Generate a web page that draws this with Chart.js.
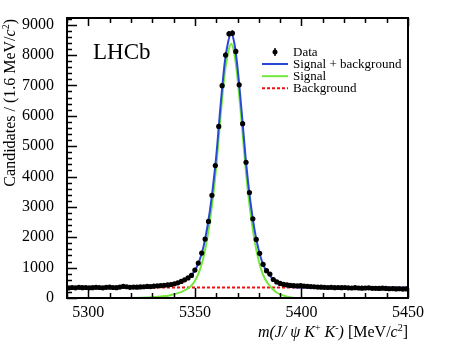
<!DOCTYPE html>
<html><head><meta charset="utf-8">
<script src="https://cdn.jsdelivr.net/npm/chart.js@4/dist/chart.umd.min.js"></script>
<style>html,body{margin:0;padding:0;background:#fff}</style>
</head><body>
<canvas id="c" width="474" height="355"></canvas>
<script>
// ---- data ----
const binLow = 5290;
const binWidth = 1.6;
const counts = [
  330, 345, 335, 350, 340, 345, 335, 340, 350, 345,
  335, 350, 355, 345, 340, 360, 385, 370, 350, 360,
  355, 365, 370, 380, 375, 390, 400, 410, 420, 430,
  445, 470, 500, 545, 600, 660, 745, 920, 1150, 1480,
  1940, 2520, 3380, 4360, 5650, 6990, 8000, 8700, 8720, 8120,
  7020, 5740, 4470, 3470, 2610, 1930, 1470, 1110, 900, 790,
  610, 530, 480, 450, 430, 415, 410, 400, 405, 395,
  385, 375, 370, 360, 355, 350, 345, 350, 340, 345,
  340, 345, 335, 330, 340, 330, 325, 330, 335, 320,
  320, 315, 325, 315, 305, 310, 300, 305, 295, 300
];
const fitMass = [5290, 5300, 5310, 5315, 5320, 5325, 5330, 5335, 5338, 5340, 5342, 5344, 5346, 5348, 5350, 5352, 5354, 5356, 5358, 5360, 5362, 5364, 5365.5, 5367, 5368.5, 5370, 5372, 5374, 5376, 5378, 5380, 5382, 5384, 5386, 5388, 5390, 5393, 5396, 5400, 5410, 5420, 5430, 5440, 5450];
const totalFit = [345, 345, 345, 345, 348, 355, 370, 400, 430, 465, 505, 555, 625, 725, 905, 1205, 1675, 2395, 3375, 4645, 6295, 7745, 8395, 8715, 8395, 7595, 6095, 4465, 3195, 2245, 1565, 1105, 845, 675, 545, 465, 395, 355, 345, 345, 345, 345, 345, 345];
const signalMass = [5318, 5325, 5330, 5335, 5338, 5340, 5342, 5344, 5346, 5348, 5350, 5352, 5354, 5356, 5358, 5360, 5362, 5364, 5365.5, 5367, 5368.5, 5370, 5372, 5374, 5376, 5378, 5380, 5382, 5384, 5386, 5388, 5390, 5393, 5396, 5399];
const signalFit = [0, 10, 25, 55, 85, 120, 160, 210, 280, 380, 560, 860, 1330, 2050, 3030, 4300, 5950, 7400, 8050, 8370, 8050, 7250, 5750, 4120, 2850, 1900, 1220, 760, 500, 330, 200, 120, 50, 10, 0];
const bkgMass = [5290, 5450];
const bkgFit = [345, 345];
const xTickValues = [5300, 5350, 5400, 5450];
const yTickValues = [0, 1000, 2000, 3000, 4000, 5000, 6000, 7000, 8000, 9000];
const seriesLabels = ['Data', 'Signal + background', 'Signal', 'Background'];

const binCenters = counts.map((_, i) => binLow + binWidth * (i + 0.5));
const FONT = '"Liberation Serif", "Times New Roman", serif';
const BLUE = '#2a48d6', GREEN = '#72e83a', RED = '#ee1111';

function drawRich(ctx, segs, size, x, y, align) {
  const fontOf = s => (s.i ? 'italic ' : '') + (s.s ? Math.round(size * 0.65) : size) + 'px ' + FONT;
  let W = 0;
  segs.forEach(s => { ctx.font = fontOf(s); W += ctx.measureText(s.t).width; });
  let cx = align === 'right' ? x - W : x;
  ctx.textAlign = 'left';
  ctx.textBaseline = 'alphabetic';
  segs.forEach(s => {
    ctx.font = fontOf(s);
    ctx.fillText(s.t, cx, y - (s.s ? size * 0.38 : 0));
    cx += ctx.measureText(s.t).width;
  });
}

const decor = {
  id: 'decor',
  afterDatasetsDraw(chart) {
    const ctx = chart.ctx, a = chart.chartArea;
    const xs = chart.scales.x, ys = chart.scales.y;
    ctx.save();
    // error bars
    ctx.strokeStyle = '#000'; ctx.lineWidth = 1.5;
    counts.forEach((c, i) => {
      const px = xs.getPixelForValue(binCenters[i]);
      const e = Math.sqrt(c);
      ctx.beginPath();
      ctx.moveTo(px, ys.getPixelForValue(c - e));
      ctx.lineTo(px, ys.getPixelForValue(c + e));
      ctx.stroke();
    });
    // frame
    ctx.lineWidth = 2;
    ctx.strokeRect(a.left, a.top, a.right - a.left, a.bottom - a.top);
    // ticks
    ctx.lineWidth = 1.5;
    ctx.beginPath();
    for (let v = 0; v <= ys.max; v += 200) {
      const py = Math.round(ys.getPixelForValue(v)) + 0.5;
      const len = yTickValues.includes(v) ? 10 : 5;
      ctx.moveTo(a.left, py); ctx.lineTo(a.left + len, py);
    }
    for (let v = 5290; v <= 5450; v += 10) {
      const px = Math.round(xs.getPixelForValue(v)) + 0.5;
      const len = xTickValues.includes(v) ? 10 : 5;
      ctx.moveTo(px, a.bottom); ctx.lineTo(px, a.bottom - len);
      ctx.moveTo(px, a.top); ctx.lineTo(px, a.top + (xTickValues.includes(v) ? 8 : 5));
    }
    ctx.stroke();
    ctx.fillStyle = '#000';
    // LHCb
    ctx.font = '23px ' + FONT;
    ctx.textAlign = 'left'; ctx.textBaseline = 'alphabetic';
    ctx.fillText('LHCb', 93, 59);
    // legend
    const lx0 = 262, lx1 = 288, tx = 293;
    const rows = [52, 64, 76.2, 88.3];
    ctx.font = '13px ' + FONT;
    ctx.textBaseline = 'middle';
    seriesLabels.forEach((lab, i) => {
      const y = rows[i];
      if (i === 0) {
        ctx.beginPath(); ctx.arc(275, y, 2.5, 0, Math.PI * 2); ctx.fill();
        ctx.lineWidth = 1.5; ctx.beginPath(); ctx.moveTo(275, y - 4); ctx.lineTo(275, y + 4); ctx.stroke();
      } else {
        ctx.strokeStyle = [null, BLUE, GREEN, RED][i];
        ctx.lineWidth = 2;
        ctx.setLineDash(i === 3 ? [3, 2] : []);
        ctx.beginPath(); ctx.moveTo(lx0, y); ctx.lineTo(lx1, y); ctx.stroke();
        ctx.setLineDash([]);
        ctx.strokeStyle = '#000';
      }
      ctx.fillText(lab, tx, y + 0.5);
    });
    // x title
    drawRich(ctx, [
      {t: 'm(J/ \u03C8 K', i: 1}, {t: '+', s: 1}, {t: ' K', i: 1}, {t: '-', s: 1}, {t: ')', i: 1},
      {t: ' [MeV/'}, {t: 'c', i: 1}, {t: '2', s: 1}, {t: ']'}
    ], 16, a.right, 337, 'right');
    // y title
    ctx.translate(15, 19);
    ctx.rotate(-Math.PI / 2);
    drawRich(ctx, [
      {t: 'Candidates / (1.6 MeV/'}, {t: 'c', i: 1}, {t: '2', s: 1}, {t: ')'}
    ], 16, 0, 0, 'right');
    ctx.restore();
  }
};

new Chart(document.getElementById('c'), {
  type: 'scatter',
  data: {
    datasets: [
      { label: seriesLabels[0], type: 'scatter', data: binCenters.map((x, i) => ({x, y: counts[i]})),
        pointRadius: 2.6, pointBackgroundColor: '#000', pointBorderWidth: 0, showLine: false },
      { label: seriesLabels[1], type: 'line', data: fitMass.map((x, i) => ({x, y: totalFit[i]})),
        borderColor: BLUE, borderWidth: 2, pointRadius: 0, cubicInterpolationMode: 'monotone', fill: false },
      { label: seriesLabels[2], type: 'line', data: signalMass.map((x, i) => ({x, y: signalFit[i]})),
        borderColor: GREEN, borderWidth: 2, pointRadius: 0, cubicInterpolationMode: 'monotone', fill: false },
      { label: seriesLabels[3], type: 'line', data: bkgMass.map((x, i) => ({x, y: bkgFit[i]})),
        borderColor: RED, borderWidth: 2, borderDash: [3, 2], pointRadius: 0, fill: false }
    ]
  },
  options: {
    responsive: false, animation: false,
    layout: { padding: { left: 0, top: 18, right: 66, bottom: 0 } },
    plugins: { legend: { display: false }, tooltip: { enabled: false } },
    scales: {
      x: { type: 'linear', min: 5290, max: 5450,
        afterBuildTicks: s => { s.ticks = xTickValues.map(v => ({value: v})); },
        afterFit: s => { s.height = 57; },
        ticks: { font: { family: FONT, size: 16 }, color: '#000', padding: -3, maxRotation: 0, autoSkip: false, callback: v => String(v) },
        grid: { display: false }, border: { display: false } },
      y: { type: 'linear', min: 0, max: 9220,
        afterBuildTicks: s => { s.ticks = yTickValues.map(v => ({value: v})); },
        afterFit: s => { s.width = 67; },
        ticks: { font: { family: FONT, size: 16 }, color: '#000', padding: 5, autoSkip: false, callback: v => String(v) },
        grid: { display: false }, border: { display: false } }
    }
  },
  plugins: [decor]
});
</script>
</body></html>
